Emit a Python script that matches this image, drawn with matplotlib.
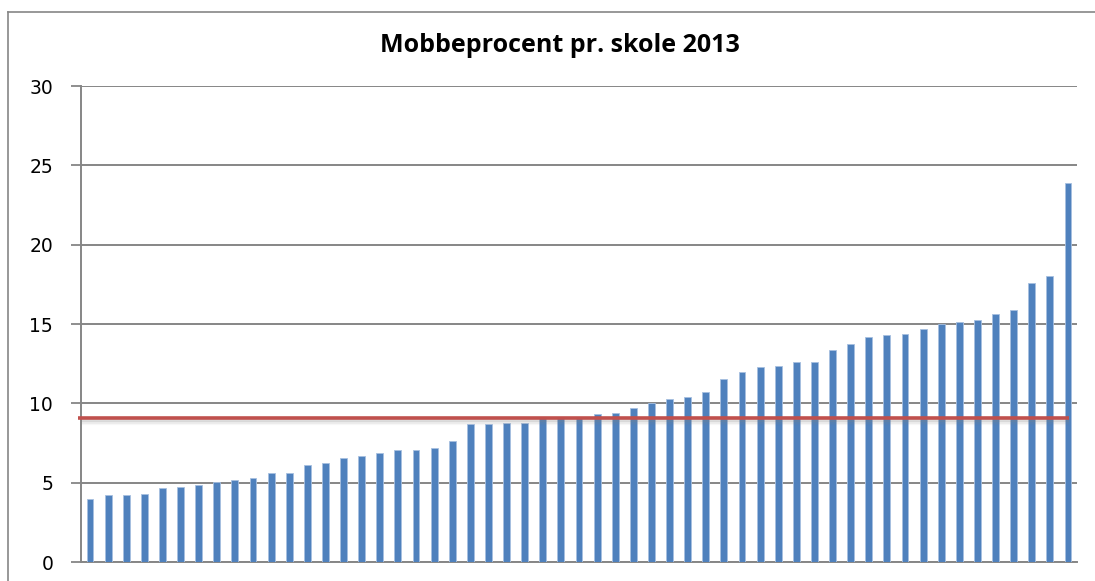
import matplotlib
matplotlib.use("Agg")
import matplotlib.pyplot as plt
from matplotlib.lines import Line2D
import numpy as np

title = "Mobbeprocent pr. skole 2013"
values = [4.0, 4.2, 4.2, 4.3, 4.65, 4.75, 4.85, 5.05, 5.18, 5.28,
          5.6, 5.6, 6.14, 6.25, 6.56, 6.66, 6.87, 7.09, 7.09, 7.19,
          7.6, 8.67, 8.67, 8.78, 8.78, 9.05, 9.05, 9.05, 9.3, 9.41,
          9.73, 10.04, 10.27, 10.38, 10.7, 11.56, 11.95, 12.27, 12.37, 12.59,
          12.59, 13.33, 13.75, 14.17, 14.28, 14.4, 14.7, 15.03, 15.13, 15.24,
          15.66, 15.87, 17.57, 18.0, 23.86]
mean_value = 9.07
yticks = [0, 5, 10, 15, 20, 25, 30]

fig = plt.figure(figsize=(10.95, 5.81), dpi=100)
ax = fig.add_axes([81/1095, 19/581, (1077-81)/1095, (562-86)/581])

x = np.arange(len(values))
ax.bar(x, values, width=0.38, color="#4F81BD", edgecolor="#A7C0E0", linewidth=0.6, zorder=3)

# mean line with soft shadow
x0, x1 = -0.66, 54.06
for off, a in [(0.12, 0.18), (0.22, 0.10), (0.32, 0.05)]:
    ax.plot([x0, x1], [mean_value - off, mean_value - off], color="#808080", alpha=a, lw=3, zorder=4, solid_capstyle="butt")
ax.plot([x0, x1], [mean_value, mean_value], color="#C0504D", lw=2.6, zorder=5, solid_capstyle="butt", clip_on=False)

ax.set_xlim(-0.5, len(values) - 0.5)
ax.set_ylim(0, 30)
ax.set_yticks(yticks)
ax.set_yticklabels([str(t) for t in yticks], fontsize=13.5, fontfamily="DejaVu Sans")
ax.tick_params(axis="y", length=7, width=1.3, color="#868686", pad=13)
ax.tick_params(axis="x", length=0, labelbottom=False)
ax.grid(axis="y", color="#868686", lw=1.4, zorder=1)
for s in ["top", "right"]:
    ax.spines[s].set_visible(False)
for s in ["left", "bottom"]:
    ax.spines[s].set_color("#868686")
    ax.spines[s].set_linewidth(1.4)
ax.set_axisbelow(True)

fig.text(560/1095, 1 - 45/581, title, ha="center", va="center", fontsize=18,
         fontweight="bold", fontfamily="Open Sans", fontstretch="condensed")

# outer chart border
fig.add_artist(Line2D([8/1095, 8/1095], [0, 1 - 12/581], transform=fig.transFigure, color="#868686", lw=1.2))
fig.add_artist(Line2D([8/1095, 1.0], [1 - 12/581, 1 - 12/581], transform=fig.transFigure, color="#868686", lw=1.2))

fig.savefig("out.png", dpi=100)
